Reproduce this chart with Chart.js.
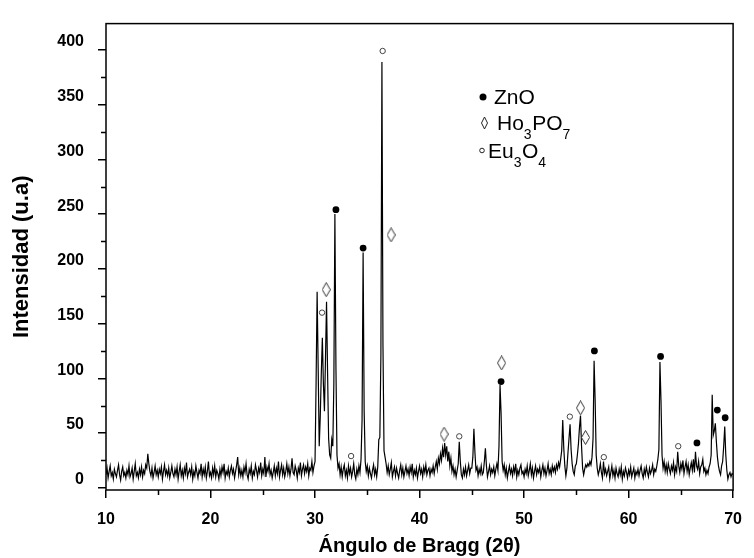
<!DOCTYPE html>
<html><head><meta charset="utf-8">
<script src="https://cdn.jsdelivr.net/npm/chart.js@4/dist/chart.umd.min.js"></script>
<style>html,body{margin:0;padding:0;background:#fff;}#wrap{width:754px;height:558px;}</style>
</head><body><div id="wrap"><canvas id="c" width="754" height="558"></canvas></div>
<script>
// ---- data (2θ grid: 10.0 to 70.0, step 0.1) ----
const angleStart = 10, angleStep = 0.1;
const intensity10to20 = [
12,18,9,15,20,11,14,8,17,13,
10,16,21,12,7,15,19,11,14,9,
16,12,20,10,13,18,8,15,22,11,
14,9,17,12,19,10,16,13,21,18,
31,22,15,11,18,9,14,20,12,16,
10,17,13,19,8,15,21,12,16,11,
18,9,14,20,13,10,17,12,19,8,
15,21,11,16,9,18,13,23,10,14,
17,12,19,8,15,11,20,14,9,16,
13,22,10,17,12,19,9,15,24,11];
const intensity20to30 = [
14,9,18,12,20,10,16,13,8,17,
11,19,14,22,9,15,12,18,10,16,
20,13,17,9,15,21,28,12,18,11,
16,10,19,14,22,12,8,17,13,20,
9,15,12,21,16,10,18,14,23,11,
17,13,28,10,19,15,22,12,16,9,
14,20,11,18,13,24,10,16,21,12,
18,10,15,22,13,19,11,17,27,14,
12,20,16,9,18,14,23,11,17,21,
13,19,15,22,11,18,16,24,14,20];
const intensity30to40 = [
24,95,179,110,38,65,105,137,95,70,
118,170,105,45,30,27,44,38,95,250,
110,30,18,22,12,19,10,17,21,11,
16,9,20,13,18,10,15,22,12,8,
17,12,20,14,26,62,215,70,24,15,
20,11,18,13,9,16,21,12,17,10,
19,44,46,120,389,130,34,28,22,14,
20,12,17,23,10,15,19,11,18,13,
9,16,21,12,18,10,15,20,13,17,
11,19,14,22,10,16,12,18,9,15];
const intensity40to50 = [
20,13,17,10,19,14,21,12,16,18,
11,17,14,20,13,19,24,17,27,22,
31,25,36,28,41,30,38,24,33,20,
27,15,20,12,17,10,16,22,42,24,
12,9,17,12,19,11,16,21,13,18,
18,28,54,32,16,19,11,17,13,20,
12,14,24,36,20,10,15,20,12,17,
14,19,11,17,22,16,38,94,68,24,
16,21,12,18,9,15,20,13,17,11,
19,14,22,10,16,12,18,21,13,15];
const intensity50to60 = [
10,17,13,20,11,16,22,12,18,9,
15,20,12,17,14,19,10,16,21,13,
18,11,16,22,13,17,12,20,15,19,
14,21,17,23,19,26,34,62,36,20,
11,18,32,45,58,35,22,15,12,20,
22,30,40,55,66,38,18,12,17,21,
19,22,20,24,21,28,45,116,80,30,
18,12,16,22,14,9,24,13,17,11,
15,19,8,14,20,11,16,9,18,13,
10,17,12,19,8,15,11,18,14,9];
const intensity60to70 = [
16,12,19,10,14,18,9,15,12,17,
11,16,20,13,9,17,12,19,14,10,
18,13,16,21,12,17,15,20,26,35,
115,80,30,18,24,15,21,14,22,17,
13,20,16,23,12,19,15,33,20,14,
22,17,25,13,19,24,15,21,12,18,
23,16,26,14,33,20,17,24,13,19,
21,26,15,18,12,16,13,19,22,30,
85,48,52,59,42,28,20,15,12,20,
24,38,56,30,16,8,12,14,10,13,
12];

// phase markers
const znoAngles = [32.0, 34.6, 47.8, 56.73, 63.06, 66.54, 68.49, 69.24];
const znoHeights = [254, 219, 97, 125, 120, 41, 71, 64];
const ho3po7Angles = [31.07, 37.28, 42.35, 47.85, 55.4, 55.88];
const ho3po7Heights = [181, 231, 49, 114, 73, 46];
const eu3o4Angles = [30.67, 33.45, 36.47, 43.8, 54.38, 57.63, 64.75];
const eu3o4Heights = [160, 29, 399, 47, 65, 28, 38];

// axes
const xTickValues = [10, 20, 30, 40, 50, 60, 70];
const xMinorTicks = [15, 25, 35, 45, 55, 65];
const yTickValues = [0, 50, 100, 150, 200, 250, 300, 350, 400];
const yMinorTicks = [25, 75, 125, 175, 225, 275, 325, 375];
const xLabel = 'Ángulo de Bragg (2θ)';
const yLabel = 'Intensidad (u.a)';

// ---- build ----
const intensity = [].concat(intensity10to20, intensity20to30, intensity30to40, intensity40to50, intensity50to60, intensity60to70);
const pattern = intensity.map((v, i) => ({x: +(angleStart + i * angleStep).toFixed(2), y: v}));
const pairs = (xs, ys) => xs.map((x, i) => ({x: x, y: ys[i]}));

function diamond(w, h) {
  const c = document.createElement('canvas');
  c.width = w; c.height = h;
  const g = c.getContext('2d');
  g.beginPath();
  g.moveTo(w / 2, 0.5); g.lineTo(w - 0.5, h / 2); g.lineTo(w / 2, h - 0.5); g.lineTo(0.5, h / 2);
  g.closePath();
  g.fillStyle = '#fff'; g.fill();
  g.strokeStyle = '#333'; g.lineWidth = 1; g.stroke();
  return c;
}
const diamondMark = diamond(9, 15);

const FONT = '"Liberation Sans", Arial, Helvetica, sans-serif';

const framePlugin = {
  id: 'frame',
  afterDraw(chart) {
    const {ctx, chartArea: a, scales} = chart;
    ctx.save();
    ctx.strokeStyle = '#000';
    ctx.lineWidth = 1.5;
    ctx.strokeRect(a.left, a.top, a.right - a.left, a.bottom - a.top);
    ctx.beginPath();
    yMinorTicks.forEach(v => { const y = Math.round(scales.y.getPixelForValue(v)) + 0.5; ctx.moveTo(a.left - 5, y); ctx.lineTo(a.left, y); });
    xMinorTicks.forEach(v => { const x = Math.round(scales.x.getPixelForValue(v)) + 0.5; ctx.moveTo(x, a.bottom); ctx.lineTo(x, a.bottom + 5); });
    ctx.stroke();

    // phase legend
    const lx = a.left + 377;
    ctx.fillStyle = '#000';
    ctx.textBaseline = 'alphabetic';
    const big = '21px ' + FONT, small = '14px ' + FONT;
    const run = (parts, x, y) => {
      parts.forEach(p => {
        ctx.font = p.sub ? small : big;
        ctx.fillText(p.t, x, y + (p.sub ? 9 : 0));
        x += ctx.measureText(p.t).width + (p.sub ? 0.5 : 0);
      });
    };
    // ZnO
    ctx.beginPath(); ctx.arc(lx, 97, 3.5, 0, Math.PI * 2); ctx.fill();
    run([{t: 'ZnO'}], lx + 11, 104);
    // Ho3PO7
    ctx.beginPath();
    ctx.moveTo(lx + 1.5, 117); ctx.lineTo(lx + 4.5, 123); ctx.lineTo(lx + 1.5, 129); ctx.lineTo(lx - 1.5, 123); ctx.closePath();
    ctx.strokeStyle = '#222'; ctx.lineWidth = 1; ctx.stroke();
    run([{t: 'Ho'}, {t: '3', sub: true}, {t: 'PO'}, {t: '7', sub: true}], lx + 14, 130);
    // Eu3O4
    ctx.beginPath(); ctx.arc(lx - 1, 150.5, 2.3, 0, Math.PI * 2); ctx.stroke();
    run([{t: 'Eu'}, {t: '3', sub: true}, {t: 'O'}, {t: '4', sub: true}], lx + 5, 158);
    ctx.restore();
  }
};

new Chart(document.getElementById('c'), {
  type: 'scatter',
  data: {
    datasets: [
      {data: pairs(znoAngles, znoHeights), pointStyle: 'circle', pointRadius: 3.4, backgroundColor: '#000', borderColor: '#000', borderWidth: 0, order: 0},
      {data: pairs(ho3po7Angles, ho3po7Heights), pointStyle: diamondMark, pointRadius: 5, order: 0},
      {data: pairs(eu3o4Angles, eu3o4Heights), pointStyle: 'circle', pointRadius: 2.7, backgroundColor: '#fff', borderColor: '#444', borderWidth: 1, order: 0},
      {type: 'line', data: pattern, borderColor: '#000', borderWidth: 1.2, pointRadius: 0, tension: 0, fill: false, order: 1}
    ]
  },
  options: {
    responsive: false,
    animation: false,
    devicePixelRatio: 1,
    layout: {padding: {top: 12, right: 10, left: 0, bottom: 0}},
    plugins: {legend: {display: false}, tooltip: {enabled: false}},
    scales: {
      x: {
        type: 'linear', position: 'bottom', min: 10, max: 70,
        afterBuildTicks: s => { s.ticks = xTickValues.map(v => ({value: v})); },
        afterFit: s => { s.height = 68; },
        ticks: {color: '#000', font: {family: FONT, size: 16, weight: 'bold'}, padding: 12, maxRotation: 0},
        grid: {display: true, drawOnChartArea: false, drawTicks: true, tickLength: 8, color: '#000', lineWidth: 1.5},
        border: {display: false},
        title: {display: true, text: xLabel, color: '#000', font: {family: FONT, size: 20, weight: 'bold'}, padding: {top: 0, bottom: 0}}
      },
      y: {
        type: 'linear', position: 'left', min: -2, max: 424,
        afterBuildTicks: s => { s.ticks = yTickValues.map(v => ({value: v})); },
        afterFit: s => { s.width = 106; },
        ticks: {color: '#000', font: {family: FONT, size: 16, weight: 'bold'}, padding: 14, labelOffset: -8},
        grid: {display: true, drawOnChartArea: false, drawTicks: true, tickLength: 8, color: '#000', lineWidth: 1.5},
        border: {display: false},
        title: {display: true, text: yLabel, color: '#000', font: {family: FONT, size: 22, weight: 'bold'}, padding: {top: 9, bottom: 0}}
      }
    }
  },
  plugins: [framePlugin]
});
</script>
</body></html>
